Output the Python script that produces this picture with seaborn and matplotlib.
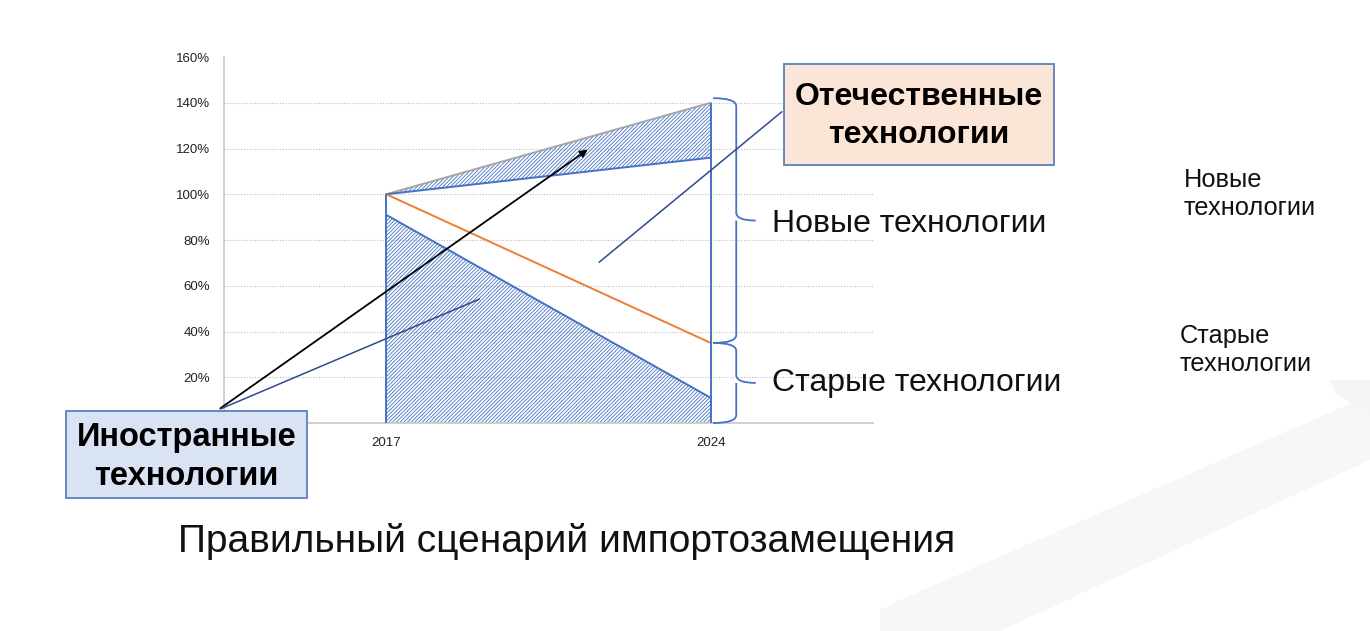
import numpy as np
import pandas as pd
import seaborn as sns
import matplotlib
matplotlib.use("Agg")
import matplotlib.pyplot as plt
from matplotlib.patches import Rectangle, Polygon, FancyArrowPatch, PathPatch
from matplotlib.path import Path
from matplotlib.ticker import FuncFormatter

# ---------------- data ----------------
years = [2017, 2024]
total_level = [100, 140]        # grey upper line (total with growth)
domestic_level = [100, 116]     # blue upper line
old_tech_share = [100, 35]      # orange line (old technologies)
foreign_share = [91, 11]        # blue lower line (foreign technologies)
y_ticks = [20, 40, 60, 80, 100, 120, 140, 160]
x_ticks = [2017, 2024]

title = "Правильный сценарий импортозамещения"
label_new = "Новые технологии"
label_old = "Старые технологии"
box_domestic = "Отечественные\nтехнологии"
box_foreign = "Иностранные\nтехнологии"
side_new = "Новые\nтехнологии"
side_old = "Старые\nтехнологии"

# ---------------- style ----------------
sns.set_style("white")
plt.rcParams['font.family'] = ['Liberation Sans', 'DejaVu Sans']
plt.rcParams['hatch.linewidth'] = 0.6

BLUE = "#4472C4"
ORANGE = "#ED7D31"
GREY = "#A5A5A5"
NAVY = "#2E4A8C"

W, H = 1370, 631
fig = plt.figure(figsize=(W / 100, H / 100), dpi=100)
fig.patch.set_facecolor("white")


def fp(x, y):
    return (x / W, 1 - y / H)


# faint decorative background shape (bottom right)
fig.add_artist(Polygon([fp(880, 631), fp(880, 610), fp(905, 598), fp(1370, 395),
                        fp(1370, 460), fp(1000, 631)], closed=True,
                       transform=fig.transFigure, facecolor="#F7F7F7",
                       edgecolor="none", zorder=0))
fig.add_artist(Polygon([fp(1330, 380), fp(1370, 380), fp(1370, 414), fp(1336, 394)],
                       closed=True, transform=fig.transFigure, facecolor="#F5F5F5",
                       edgecolor="none", zorder=0))

ax = fig.add_axes([224 / W, 1 - 423 / H, (873 - 224) / W, (423 - 57) / H])
ax.set_facecolor("none")

df = pd.DataFrame({
    "year": years * 4,
    "value": total_level + domestic_level + old_tech_share + foreign_share,
    "series": ["total"] * 2 + ["domestic"] * 2 + ["old"] * 2 + ["foreign"] * 2,
})

# hatched areas
ax.fill_between(years, domestic_level, total_level, facecolor="none",
                edgecolor=BLUE, hatch="/////////", linewidth=0, zorder=2)
ax.fill_between(years, [0, 0], foreign_share, facecolor="none",
                edgecolor=BLUE, hatch="/////////", linewidth=0, zorder=2)

palette = {"total": GREY, "domestic": BLUE, "old": ORANGE, "foreign": BLUE}
sns.lineplot(data=df, x="year", y="value", hue="series", palette=palette,
             legend=False, ax=ax, linewidth=1.4, zorder=3)

# vertical boundaries at the two years
ax.vlines(years[0], 0, old_tech_share[0], color=BLUE, linewidth=1.4, zorder=3)
ax.vlines(years[1], 0, total_level[1], color=BLUE, linewidth=1.4, zorder=3)

ax.set_xlim(2013.5, 2027.5)
ax.set_ylim(0, 160)
ax.set_xticks(x_ticks)
ax.set_xticklabels([str(v) for v in x_ticks])
ax.set_yticks(y_ticks)
ax.yaxis.set_major_formatter(FuncFormatter(lambda v, p: f"{int(v)}%"))
ax.tick_params(axis="both", length=0, labelsize=9.5, colors="#222222")
ax.tick_params(axis="y", pad=10)
ax.tick_params(axis="x", pad=10)
ax.set_xlabel("")
ax.set_ylabel("")
for v in y_ticks[:-1]:
    ax.axhline(v, color="#BBBBBB", linestyle=(0, (1, 1.5)), linewidth=0.8, zorder=1)
for s in ["top", "right"]:
    ax.spines[s].set_visible(False)
ax.spines["left"].set_color("#C8C8C8")
ax.spines["bottom"].set_color("#C8C8C8")
ax.spines["left"].set_linewidth(1.2)
ax.spines["bottom"].set_linewidth(1.2)


# curly braces to the right of 2024
def brace(ax, x0, xm, xt, y0, y1, color=BLUE):
    ymid = (y0 + y1) / 2
    r = 3.5
    verts = [(x0, y1), (xm, y1), (xm, y1 - r),
             (xm, ymid + r),
             (xm, ymid), (xt, ymid),
             (xm, ymid), (xm, ymid - r),
             (xm, y0 + r),
             (xm, y0), (x0, y0)]
    codes = [Path.MOVETO, Path.CURVE3, Path.CURVE3,
             Path.LINETO,
             Path.CURVE3, Path.CURVE3,
             Path.MOVETO, Path.CURVE3,
             Path.LINETO,
             Path.CURVE3, Path.CURVE3]
    ax.add_patch(PathPatch(Path(verts, codes), facecolor="none", edgecolor=color,
                           linewidth=1.3, clip_on=False, zorder=4))


brace(ax, 2024.05, 2024.55, 2024.97, old_tech_share[1], 142)
brace(ax, 2024.05, 2024.55, 2024.97, 0, old_tech_share[1])

fig.text(*fp(772, 224), label_new, fontsize=23, va="center", ha="left", color="#111111")
fig.text(*fp(772, 383), label_old, fontsize=23, va="center", ha="left", color="#111111")

# pointer lines and arrow
fig.add_artist(FancyArrowPatch(fp(218, 410), fp(590, 148), transform=fig.transFigure,
                               arrowstyle="-|>", mutation_scale=11, color="black",
                               linewidth=1.3, zorder=5))
fig.add_artist(FancyArrowPatch(fp(218, 410), fp(482, 298), transform=fig.transFigure,
                               arrowstyle="-", color=NAVY, linewidth=1.1, zorder=5))
fig.add_artist(FancyArrowPatch(fp(597, 264), fp(784, 110), transform=fig.transFigure,
                               arrowstyle="-", color=NAVY, linewidth=1.1, zorder=5))

# boxes
x0, y0 = fp(784, 165)
fig.add_artist(Rectangle((x0, y0), 270 / W, 101 / H, transform=fig.transFigure,
                         facecolor="#FBE5D6", edgecolor="#5B7FC0", linewidth=1.3, zorder=6))
fig.text(*fp(919, 116), box_domestic, fontsize=23, fontweight="bold", ha="center",
         va="center", linespacing=1.32, color="black", zorder=7)

x0, y0 = fp(66, 498)
fig.add_artist(Rectangle((x0, y0), 241 / W, 87 / H, transform=fig.transFigure,
                         facecolor="#DAE3F3", edgecolor="#5B7FC0", linewidth=1.3, zorder=6))
fig.text(*fp(186.5, 457), box_foreign, fontsize=23.5, fontweight="bold", ha="center",
         va="center", linespacing=1.33, color="black", zorder=7)

# side labels
fig.text(*fp(1184, 194), side_new, fontsize=18.3, ha="left", va="center",
         linespacing=1.25, color="#111111")
fig.text(*fp(1180, 350), side_old, fontsize=18.3, ha="left", va="center",
         linespacing=1.25, color="#111111")

# title
fig.text(*fp(178, 541), title, fontsize=28, ha="left", va="center", color="#111111")

fig.savefig("out.png", dpi=100, facecolor="white")
